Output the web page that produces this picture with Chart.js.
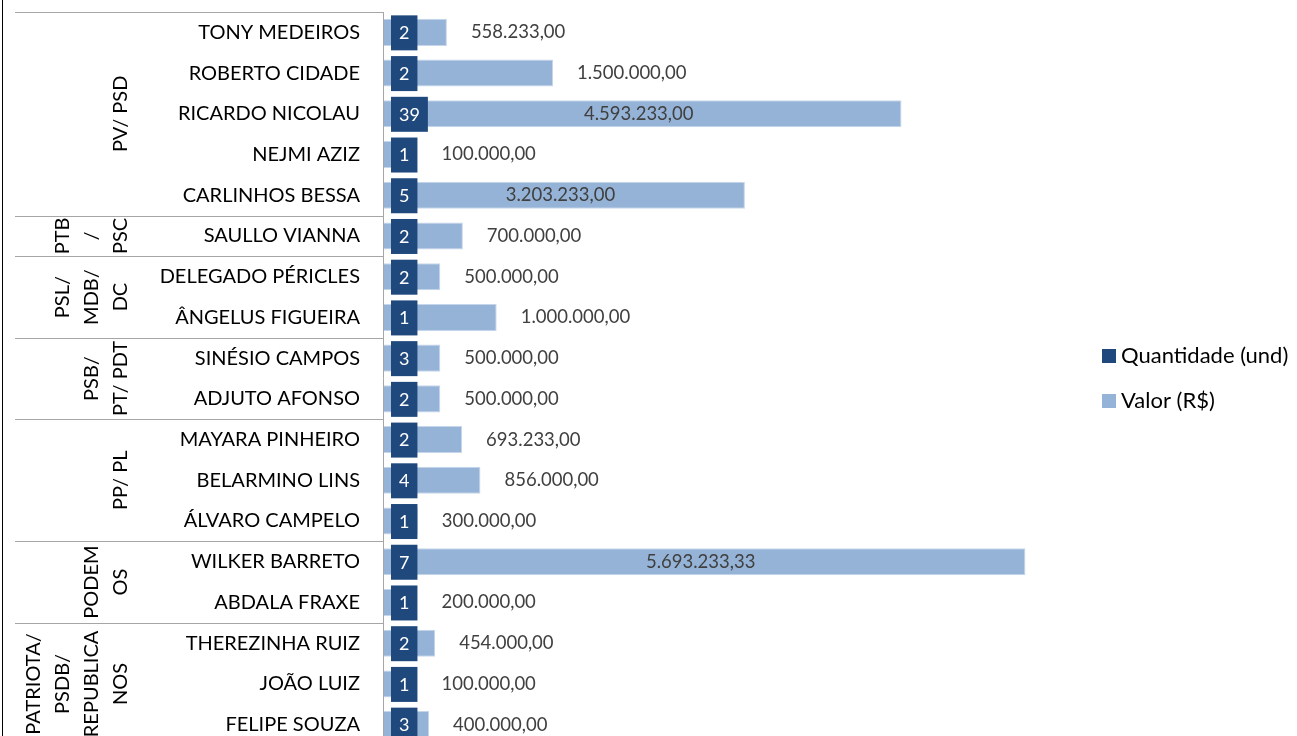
<!DOCTYPE html>
<html>
<head>
<meta charset="utf-8">
<script src="https://cdn.jsdelivr.net/npm/chart.js@4/dist/chart.umd.min.js"></script>
<style>
  body { margin: 0; overflow: hidden; background: #fff; }
</style>
</head>
<body>
<canvas id="chart" width="1297" height="760"></canvas>
<script>
const nomes = [
    "TONY MEDEIROS", "ROBERTO CIDADE", "RICARDO NICOLAU", "NEJMI AZIZ", "CARLINHOS BESSA",
    "SAULLO VIANNA",
    "DELEGADO PÉRICLES", "ÂNGELUS FIGUEIRA",
    "SINÉSIO CAMPOS", "ADJUTO AFONSO",
    "MAYARA PINHEIRO", "BELARMINO LINS", "ÁLVARO CAMPELO",
    "WILKER BARRETO", "ABDALA FRAXE",
    "THEREZINHA RUIZ", "JOÃO LUIZ", "FELIPE SOUZA"
];
const quantidade = [2, 2, 39, 1, 5, 2, 2, 1, 3, 2, 2, 4, 1, 7, 1, 2, 1, 3];
const valor = [558233, 1500000, 4593233, 100000, 3203233, 700000, 500000, 1000000, 500000, 500000,
    693233, 856000, 300000, 5693233.33, 200000, 454000, 100000, 400000];

// party groups (lines as wrapped in the original) and how many rows each covers
const partidos = [
    ["PV/ PSD"], ["PTB", "/", "PSC"], ["PSL/", "MDB/", "DC"], ["PSB/", "PT/ PDT"],
    ["PP/ PL"], ["PODEM", "OS"], ["PATRIOTA/", "PSDB/", "REPUBLICA", "NOS"]
];
const linhasPorPartido = [5, 1, 2, 2, 3, 2, 3];

const FONT = "Lato, 'Noto Sans', sans-serif";

function formatBR(v) {
    const parts = v.toFixed(2).split(".");
    const inteiro = parts[0].replace(/\B(?=(\d{3})+(?!\d))/g, ".");
    return inteiro + "," + parts[1];
}

const labelsPlugin = {
    id: "labels",
    afterDatasetsDraw(chart) {
        const ctx = chart.ctx;
        const metaQ = chart.getDatasetMeta(0);
        const metaV = chart.getDatasetMeta(1);
        ctx.save();
        ctx.textBaseline = "middle";

        metaV.data.forEach((bar, i) => {
            const base = metaQ.data[i].base;
            const y = bar.y;
            // quantity shown as a filled label box at the base of the bar
            ctx.font = "18px " + FONT;
            const txt = String(quantidade[i]);
            const w = ctx.measureText(txt).width + 16;
            const boxLeft = base + 7;
            ctx.fillStyle = "#1F497D";
            ctx.fillRect(boxLeft, y - 17, w, 35);
            ctx.fillStyle = "#ffffff";
            ctx.textAlign = "center";
            ctx.fillText(txt, boxLeft + w / 2, y + 1);

            // value label
            ctx.font = "18.5px " + FONT;
            const vtxt = formatBR(valor[i]);
            ctx.fillStyle = "#404040";
            if (bar.x - base > 250) {
                ctx.textAlign = "center";
                ctx.fillText(vtxt, (bar.x + base) / 2 - 4, y);
            } else {
                ctx.textAlign = "left";
                ctx.fillText(vtxt, Math.max(bar.x, boxLeft + w) + 24, y);
            }
        });
        ctx.restore();
    },
    afterDraw(chart) {
        const ctx = chart.ctx;
        const yScale = chart.scales.y;
        const area = chart.chartArea;
        ctx.save();

        // outer frame edge on the left
        ctx.strokeStyle = "#000000";
        ctx.lineWidth = 1;
        ctx.beginPath();
        ctx.moveTo(2.5, 0);
        ctx.lineTo(2.5, chart.height);
        ctx.stroke();

        // axis line and group separators
        ctx.strokeStyle = "#a6a6a6";
        ctx.beginPath();
        ctx.moveTo(area.left - 0.5, area.top);
        ctx.lineTo(area.left - 0.5, area.bottom);
        ctx.stroke();

        const band = (area.bottom - area.top) / nomes.length;
        let start = 0;
        ctx.font = "20px " + FONT;
        ctx.fillStyle = "#000000";
        ctx.textAlign = "center";
        ctx.textBaseline = "middle";
        linhasPorPartido.forEach((n, g) => {
            const yTop = Math.round(yScale.getPixelForValue(start) - band / 2) + 0.5;
            ctx.beginPath();
            ctx.moveTo(15, yTop);
            ctx.lineTo(area.left, yTop);
            ctx.stroke();

            const yMid = (yScale.getPixelForValue(start) + yScale.getPixelForValue(start + n - 1)) / 2;
            const lines = partidos[g];
            lines.forEach((txt, k) => {
                const x = 120 - (lines.length - 1 - k) * 29;
                ctx.save();
                ctx.translate(x, yMid);
                ctx.rotate(-Math.PI / 2);
                ctx.fillText(txt, 0, 1);
                ctx.restore();
            });
            start += n;
        });

        // legend
        ctx.font = "22px " + FONT;
        ctx.textAlign = "left";
        chart.data.datasets.forEach((ds, i) => {
            const cy = 356 + i * 45;
            ctx.fillStyle = ds.backgroundColor;
            ctx.fillRect(1102, cy - 7, 14, 14);
            ctx.fillStyle = "#000000";
            ctx.fillText(ds.label, 1121, cy);
        });
        ctx.restore();
    }
};

new Chart(document.getElementById("chart"), {
    type: "bar",
    data: {
        labels: nomes,
        datasets: [
            {
                label: "Quantidade (und)",
                data: quantidade,
                backgroundColor: "#1F497D",
                borderWidth: 0
            },
            {
                label: "Valor (R$)",
                data: valor,
                backgroundColor: "#95B3D7",
                borderColor: "#c6d6ea",
                borderWidth: 1
            }
        ]
    },
    options: {
        indexAxis: "y",
        responsive: false,
        animation: false,
        layout: { padding: { top: 12, bottom: 15, right: 237, left: 0 } },
        datasets: {
            bar: { grouped: false, barPercentage: 0.665, categoryPercentage: 1 }
        },
        scales: {
            x: { display: false, min: 0, max: 6000000 },
            y: {
                afterFit(scale) {
                    scale.width = 384;
                    scale.paddingTop = 0;
                    scale.paddingBottom = 0;
                },
                grid: { display: false, drawTicks: false },
                border: { display: false },
                ticks: {
                    padding: 24,
                    color: "#000000",
                    font: { family: FONT, size: 20 }
                }
            }
        },
        plugins: {
            legend: { display: false },
            tooltip: { enabled: false }
        }
    },
    plugins: [labelsPlugin]
});
</script>
</body>
</html>
